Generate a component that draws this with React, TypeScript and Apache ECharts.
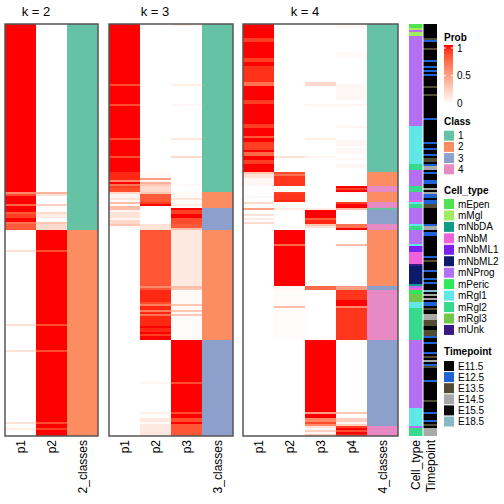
import React, { useEffect, useRef } from "react";
import * as echarts from "echarts";

const N_ROWS = 206;

const K2_COLUMNS = ["p1", "p2", "2_classes"];
const K3_COLUMNS = ["p1", "p2", "p3", "3_classes"];
const K4_COLUMNS = ["p1", "p2", "p3", "p4", "4_classes"];
const ANNO_COLUMNS = ["Cell_type", "Timepoint"];
const PANEL_TITLES = ["k = 2", "k = 3", "k = 4"];

const CLASS_NAMES = ["1", "2", "3", "4"];
const CLASS_COLORS = ["#66c2a5", "#fc8d62", "#8da0cb", "#e78ac3"];
const CELL_TYPES = ["mEpen", "mMgl", "mNbDA", "mNbM", "mNbML1", "mNbML2", "mNProg", "mPeric", "mRgl1", "mRgl2", "mRgl3", "mUnk"];
const CELL_COLORS = ["#4fe34f", "#a0ec60", "#119c8a", "#ef62dc", "#7b22f0", "#0d1a6b", "#b46ff2", "#2ee85a", "#60e8e8", "#37d98c", "#6fc84b", "#3a1b86"];
const TIMEPOINTS = ["E11.5", "E12.5", "E13.5", "E14.5", "E15.5", "E18.5"];
const TIME_COLORS = ["#000000", "#1f63d4", "#514c33", "#a9a9a9", "#0b0b0b", "#8ab9c6"];
const PROB_TICKS = ["1", "0.5", "0"];

// run-length columns: [number of rows, value]
const k2P1: [number, number][] = [[84, 1], [1, 0.6], [1, 0.85], [4, 1], [1, 0.75], [3, 1], [1, 0.8], [2, 0.9], [2, 1], [1, 0.7], [3, 0.8],
  [10, 0], [1, 0.15], [36, 0], [1, 0.15], [12, 0], [1, 0.15], [35, 0], [1, 0.15], [2, 0], [1, 0.1], [3, 0]];
const k2P2: [number, number][] = [[84, 0], [1, 0.4], [1, 0.15], [4, 0], [1, 0.25], [3, 0], [1, 0.2], [2, 0.1], [2, 0], [1, 0.3], [3, 0.2],
  [10, 1], [1, 0.85], [36, 1], [1, 0.85], [12, 1], [1, 0.85], [35, 1], [1, 0.85], [2, 1], [1, 0.9], [3, 1]];
const k2Class: [number, number][] = [[103, 1], [103, 2]];

const k3P1: [number, number][] = [[30, 1], [1, 0.85], [9, 1], [1, 0.85], [16, 1], [1, 0.85], [8, 1], [1, 0.85], [7, 1], [4, 0.95], [1, 0.6], [1, 1], [1, 0.7], [1, 0.9], [2, 0.85],
  [1, 0.2], [2, 0.05], [1, 0.15], [1, 0.02], [1, 0.35], [1, 0.02], [2, 0.35], [1, 0.05], [3, 0.15], [1, 0.05], [2, 0.2], [1, 0.3], [2, 0.02],
  [103, 0]];
const k3P2: [number, number][] = [[73, 0], [4, 0.03], [1, 0.5], [1, 0.05], [1, 0.4], [1, 0.3], [3, 0.2],
  [1, 0.3], [4, 0.8], [1, 0.9], [1, 1], [9, 0], [3, 0.15],
  [28, 0.82],
  [1, 0.6], [1, 0.82], [6, 0.95], [1, 0.85], [1, 0.65], [2, 0.95], [1, 0.65], [1, 0.95], [1, 0.7], [5, 0.95], [1, 1], [2, 0.95], [1, 1], [1, 0.9], [2, 1],
  [21, 0], [1, 0.05], [14, 0], [1, 0.08], [2, 0], [2, 0.12], [1, 0.02], [6, 0.12]];
const k3P3: [number, number][] = [[1, 0.1], [29, 0], [1, 0.1], [9, 0], [1, 0.04], [16, 0], [1, 0.12], [8, 0], [1, 0.2], [13, 0], [1, 0.03], [3, 0],
  [3, 0.03], [1, 0.15], [2, 0.03], [1, 0.1], [1, 0.02],
  [1, 1], [2, 0.9], [2, 1], [3, 0.85], [2, 0.8], [1, 0.35],
  [28, 0.12],
  [1, 0.35], [1, 0.3], [7, 0.03], [1, 0.3], [2, 0.03], [1, 0.3], [1, 0.03], [1, 0.28], [12, 0.02],
  [21, 1], [1, 0.85], [14, 1], [1, 0.85], [2, 1], [2, 0.85], [1, 1], [6, 0.82]];
const k3Class: [number, number][] = [[84, 1], [8, 2], [11, 3], [55, 2], [48, 3]];

const k4P1: [number, number][] = [[7, 1], [2, 0.9], [8, 1], [2, 0.9], [2, 1], [8, 0.93], [2, 0.7], [7, 1], [2, 0.9], [10, 1], [2, 0.9], [4, 1], [1, 0.8], [2, 1], [4, 0.9], [1, 1], [2, 0.75], [2, 1], [2, 0.9], [4, 1],
  [1, 0.3], [2, 0.15], [4, 0.04],
  [5, 0], [1, 0.04], [2, 0],
  [1, 0.2], [2, 0.02],
  [1, 0.5],
  [2, 0], [1, 0.15], [1, 0], [1, 0.1], [1, 0], [1, 0.2],
  [106, 0]];
const k4P2: [number, number][] = [[66, 0], [1, 0.15], [7, 0],
  [1, 0.85], [1, 0.7], [5, 0.92],
  [3, 0],
  [1, 0.9], [3, 0.92], [1, 0.95],
  [3, 0], [1, 0.1], [10, 0],
  [7, 1], [1, 0.75], [20, 1],
  [2, 0.04],
  [8, 0.02], [1, 0.35], [16, 0.02],
  [48, 0]];
const k4P3: [number, number][] = [[29, 0], [2, 0.2], [9, 0], [1, 0.05], [16, 0], [1, 0.1], [8, 0], [1, 0.06], [7, 0],
  [18, 0], [1, 0.1],
  [4, 1], [1, 0.8], [2, 0.95], [1, 0.3], [1, 0.15], [1, 0],
  [28, 0], [2, 0.75], [25, 0],
  [36, 1], [1, 0.5], [2, 1], [2, 0.6], [1, 0.85], [1, 0.6], [1, 0.15], [1, 0.05], [1, 0.25], [1, 0.05], [1, 0.3]];
const k4P4: [number, number][] = [[2, 0.05], [12, 0], [3, 0.03], [13, 0], [8, 0.04], [2, 0], [1, 0.05], [10, 0], [1, 0.05], [6, 0], [3, 0.05], [1, 0], [3, 0.04], [2, 0], [1, 0.05], [2, 0], [2, 0.05], [2, 0],
  [7, 0],
  [1, 1], [1, 0.9], [1, 1],
  [1, 0.03], [3, 0], [1, 0.02],
  [1, 0.9], [2, 1],
  [1, 0.35],
  [7, 0],
  [2, 0.7], [1, 1],
  [7, 0], [1, 0.35], [20, 0],
  [2, 0.5],
  [5, 0.92], [3, 1], [1, 0.6], [16, 0.92],
  [36, 0], [1, 0.3], [2, 0], [2, 0.25], [1, 0.05], [1, 0.25], [1, 0.9], [1, 1], [1, 0.85], [1, 1], [1, 0.95]];
const k4Class: [number, number][] = [[74, 1], [7, 2], [3, 4], [5, 2], [3, 4], [1, 1], [7, 3], [3, 4], [28, 2], [2, 3], [25, 4], [43, 3], [5, 4]];

// annotation runs: [number of rows, index]
const cellTypeRuns: [number, number][] = [[2, 0], [1, 1], [1, 6], [2, 1], [45, 6], [19, 8], [3, 9], [8, 6], [3, 9], [4, 6], [1, 3], [1, 8], [2, 9], [8, 6], [1, 8], [2, 9],
  [7, 6], [1, 8], [3, 4], [6, 3], [1, 11], [9, 5], [1, 2], [1, 6], [1, 3], [2, 7], [4, 10], [3, 8], [16, 9], [34, 6], [9, 8], [1, 6], [4, 9]];
const timepointRuns: [number, number][] = [[7, 0], [1, 2], [1, 1], [3, 0], [1, 2], [5, 0], [1, 1], [2, 0], [1, 1], [1, 0], [1, 1], [1, 0], [1, 1], [5, 0], [1, 2], [3, 0], [1, 2],
  [11, 0], [1, 1], [11, 0], [1, 1], [2, 0], [1, 1], [2, 0], [1, 1], [1, 0], [2, 2], [1, 0], [1, 1], [2, 3], [1, 0], [1, 1], [3, 0], [2, 1], [2, 0], [1, 3], [1, 0], [1, 3],
  [2, 1], [1, 0], [2, 1], [2, 2], [8, 0], [1, 1], [2, 3], [1, 0], [2, 1], [10, 0], [1, 1], [1, 0], [1, 2], [4, 0], [1, 1], [3, 0], [1, 1], [1, 0], [1, 1], [3, 0],
  [1, 5], [1, 0], [1, 3], [1, 0], [1, 3], [1, 0], [2, 1], [1, 0], [1, 2], [2, 0], [3, 3], [3, 2], [2, 0], [3, 2], [1, 1], [2, 0], [1, 1], [4, 0], [1, 1], [1, 0], [1, 2],
  [1, 0], [1, 3], [1, 0], [1, 1], [1, 2], [6, 0], [1, 1], [9, 0], [1, 2], [5, 0], [1, 1], [3, 0], [1, 1], [1, 0], [1, 2], [1, 0], [4, 3]];

// ---------- colour helpers (LAB interpolation white -> red) ----------
function toLin(c: number) { c /= 255; return c <= 0.04045 ? c / 12.92 : Math.pow((c + 0.055) / 1.055, 2.4); }
function fromLin(c: number) { const v = c <= 0.0031308 ? 12.92 * c : 1.055 * Math.pow(Math.max(c, 0), 1 / 2.4) - 0.055; return Math.round(Math.max(0, Math.min(1, v)) * 255); }
function rgb2lab(r: number, g: number, b: number) {
  const R = toLin(r), G = toLin(g), B = toLin(b);
  const X = (0.4124 * R + 0.3576 * G + 0.1805 * B) / 0.95047;
  const Y = 0.2126 * R + 0.7152 * G + 0.0722 * B;
  const Z = (0.0193 * R + 0.1192 * G + 0.9505 * B) / 1.08883;
  const f = (t: number) => (t > 0.008856 ? Math.cbrt(t) : 7.787 * t + 16 / 116);
  const fx = f(X), fy = f(Y), fz = f(Z);
  return [116 * fy - 16, 500 * (fx - fy), 200 * (fy - fz)];
}
function lab2rgb(L: number, a: number, b: number) {
  const fy = (L + 16) / 116, fx = fy + a / 500, fz = fy - b / 200;
  const finv = (t: number) => (t * t * t > 0.008856 ? t * t * t : (t - 16 / 116) / 7.787);
  const X = finv(fx) * 0.95047, Y = finv(fy), Z = finv(fz) * 1.08883;
  const R = 3.2406 * X - 1.5372 * Y - 0.4986 * Z;
  const G = -0.9689 * X + 1.8758 * Y + 0.0415 * Z;
  const B = 0.0557 * X - 0.204 * Y + 1.057 * Z;
  return `rgb(${fromLin(R)},${fromLin(G)},${fromLin(B)})`;
}
const WHITE_LAB = rgb2lab(255, 255, 255);
const RED_LAB = rgb2lab(255, 0, 0);
function probColor(v: number) {
  const t = Math.max(0, Math.min(1, v));
  return lab2rgb(
    WHITE_LAB[0] + (RED_LAB[0] - WHITE_LAB[0]) * t,
    WHITE_LAB[1] + (RED_LAB[1] - WHITE_LAB[1]) * t,
    WHITE_LAB[2] + (RED_LAB[2] - WHITE_LAB[2]) * t
  );
}

type Kind = "prob" | "class" | "cell" | "time";
function colorFor(kind: Kind, v: number) {
  if (kind === "prob") return probColor(v);
  if (kind === "class") return CLASS_COLORS[v - 1];
  if (kind === "cell") return CELL_COLORS[v];
  return TIME_COLORS[v];
}

const FONT = "'Liberation Sans', Arial, Helvetica, sans-serif";

function buildSeries(gridIndex: number, cols: { runs: [number, number][]; kind: Kind }[], gap: number) {
  const data: number[][] = [];
  const colors: string[] = [];
  cols.forEach((col, ci) => {
    let start = 0;
    col.runs.forEach(([n, v]) => {
      data.push([ci, start, start + n]);
      colors.push(colorFor(col.kind, v));
      start += n;
    });
  });
  return {
    type: "custom",
    xAxisIndex: gridIndex,
    yAxisIndex: gridIndex,
    silent: true,
    progressive: 0,
    encode: { x: 0, y: [1, 2] },
    data,
    renderItem: (params: any, api: any) => {
      const c = api.value(0), s = api.value(1), e = api.value(2);
      const p0 = api.coord([c, s]);
      const p1 = api.coord([c, e]);
      const bw = api.size([1, 0])[0];
      return {
        type: "rect",
        shape: { x: p0[0] - bw / 2, y: p0[1], width: bw - gap, height: p1[1] - p0[1] },
        style: { fill: colors[params.dataIndex], stroke: null },
      };
    },
  };
}

function text(str: string, x: number, y: number, size: number, opts: any = {}) {
  return {
    type: "text",
    x, y,
    silent: true,
    style: {
      text: str,
      fill: "#000",
      fontSize: size,
      fontFamily: FONT,
      fontWeight: opts.bold ? "bold" : "normal",
      align: opts.align || "left",
      textAlign: opts.align || "left",
      verticalAlign: "middle",
      textVerticalAlign: "middle",
    },
  };
}

export default function App() {
  const ref = useRef<HTMLDivElement>(null);
  useEffect(() => {
    document.body.style.margin = "0";
    const chart = echarts.init(ref.current!, null, { renderer: "svg" });

    const grids = [
      { left: 5, top: 24, width: 93, height: 412 },
      { left: 109, top: 24, width: 124, height: 412 },
      { left: 243, top: 24, width: 155, height: 412 },
      { left: 409, top: 24, width: 29, height: 412 },
    ];
    const colSets = [K2_COLUMNS, K3_COLUMNS, K4_COLUMNS, ANNO_COLUMNS];

    const xAxis = colSets.map((cols, i) => ({
      type: "category",
      gridIndex: i,
      data: cols,
      axisLine: { show: false },
      axisTick: { show: false },
      splitLine: { show: false },
      axisLabel: { rotate: 90, interval: 0, fontSize: 12, color: "#000", margin: 4, fontFamily: FONT },
    }));
    const yAxis = colSets.map((_, i) => ({
      type: "value",
      gridIndex: i,
      min: 0,
      max: N_ROWS,
      inverse: true,
      show: false,
    }));

    const series = [
      buildSeries(0, [{ runs: k2P1, kind: "prob" }, { runs: k2P2, kind: "prob" }, { runs: k2Class, kind: "class" }], 0),
      buildSeries(1, [{ runs: k3P1, kind: "prob" }, { runs: k3P2, kind: "prob" }, { runs: k3P3, kind: "prob" }, { runs: k3Class, kind: "class" }], 0),
      buildSeries(2, [{ runs: k4P1, kind: "prob" }, { runs: k4P2, kind: "prob" }, { runs: k4P3, kind: "prob" }, { runs: k4P4, kind: "prob" }, { runs: k4Class, kind: "class" }], 0),
      buildSeries(3, [{ runs: cellTypeRuns, kind: "cell" }, { runs: timepointRuns, kind: "time" }], 1),
    ];

    const graphic: any[] = [];
    // titles centred over probability columns
    const titleX = [36, 155, 305];
    PANEL_TITLES.forEach((t, i) => graphic.push(text(t, titleX[i], 11, 13, { align: "center" })));
    // borders
    grids.slice(0, 3).forEach((g) =>
      graphic.push({
        type: "rect",
        silent: true,
        z: 100,
        shape: { x: g.left, y: g.top, width: g.width, height: g.height },
        style: { fill: "none", stroke: "#555", lineWidth: 1.5 },
      })
    );

    // Prob legend
    const LX = 444;
    graphic.push(text("Prob", LX, 37, 10, { bold: true }));
    const stops = [];
    for (let i = 0; i <= 10; i++) stops.push({ offset: i / 10, color: probColor(1 - i / 10) });
    graphic.push({
      type: "rect",
      silent: true,
      shape: { x: LX, y: 45, width: 9, height: 59 },
      style: { fill: new echarts.graphic.LinearGradient(0, 0, 0, 1, stops) },
    });
    const tickY = [48, 75.7, 103.3];
    PROB_TICKS.forEach((t, i) => {
      graphic.push(text(t, LX + 13, tickY[i], 10));
      if (i < 2) {
        graphic.push({ type: "line", silent: true, shape: { x1: LX, y1: tickY[i], x2: LX + 2, y2: tickY[i] }, style: { stroke: "#fff", lineWidth: 1 } });
        graphic.push({ type: "line", silent: true, shape: { x1: LX + 7, y1: tickY[i], x2: LX + 9, y2: tickY[i] }, style: { stroke: "#fff", lineWidth: 1 } });
      }
    });

    const legendBlock = (title: string, titleY: number, names: string[], colors: string[], firstY: number, step: number) => {
      graphic.push(text(title, LX, titleY, 10, { bold: true }));
      names.forEach((n, i) => {
        const cy = firstY + i * step;
        graphic.push({
          type: "rect",
          silent: true,
          shape: { x: LX, y: cy - 5, width: 10, height: 10 },
          style: { fill: colors[i] },
        });
        graphic.push(text(n, LX + 14, cy, 10));
      });
    };
    legendBlock("Class", 121, CLASS_NAMES, CLASS_COLORS, 135.7, 11.2);
    legendBlock("Cell_type", 190, CELL_TYPES, CELL_COLORS, 204, 11.45);
    legendBlock("Timepoint", 351, TIMEPOINTS, TIME_COLORS, 366, 11.1);

    chart.setOption({
      animation: false,
      backgroundColor: "#fff",
      grid: grids.map((g) => ({ ...g, containLabel: false })),
      xAxis,
      yAxis,
      series,
      graphic,
    });
    return () => chart.dispose();
  }, []);
  return <div ref={ref} style={{ position: "absolute", left: 0, top: 0, width: 504, height: 504 }} />;
}
